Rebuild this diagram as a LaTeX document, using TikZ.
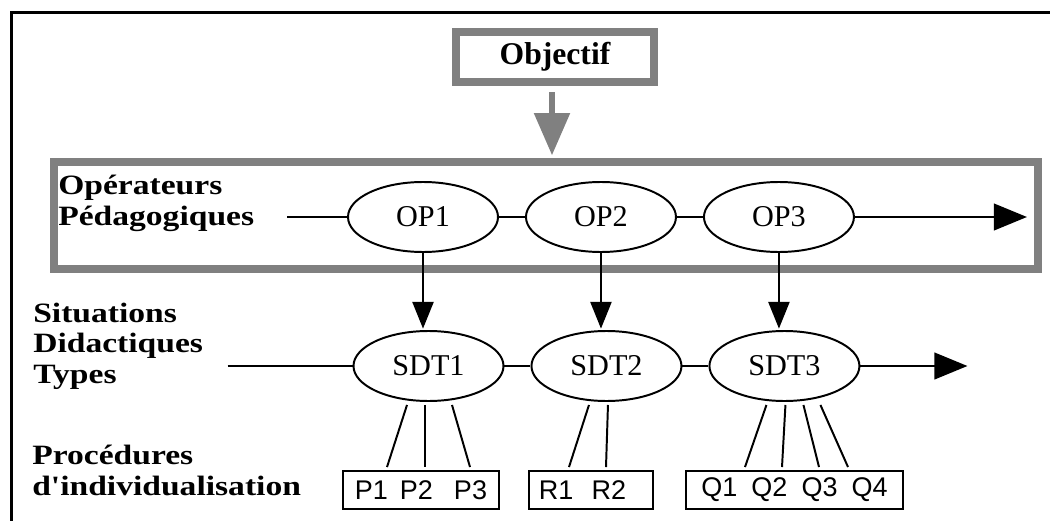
\documentclass[tikz,border=0pt]{standalone}
\usepackage{fontspec}
\setmainfont{Liberation Serif}
\newfontfamily\headfont[FakeStretch=1.2]{Liberation Serif}
\newfontfamily\boxfont{Liberation Sans}
\usepackage{tikz}
\usetikzlibrary{shapes,arrows.meta,positioning,calc}

\begin{document}
\begin{tikzpicture}[
        % Styles for the frames, the stages and the links
        frame/.style={line width=2.3pt},
        goal/.style={draw=gray, line width=5.7pt, minimum width=4.95cm, minimum height=1.25cm, inner sep=0pt, font=\fontsize{22.5}{25}\selectfont\bfseries},
        level/.style={draw=gray, line width=5.7pt, minimum width=24.6cm, minimum height=2.675cm},
        heading/.style={align=left, inner sep=0pt, font=\headfont\bfseries\fontsize{19.9}{21.5}\selectfont},
        stage/.style={draw, ellipse, line width=1.4pt, minimum width=3.75cm, minimum height=1.75cm, inner sep=0pt, font=\fontsize{21.5}{24}\selectfont},
        procbox/.style={draw, line width=1.4pt, minimum height=0.95cm, inner sep=0pt, font=\boxfont\fontsize{19.2}{22}\selectfont},
        link/.style={line width=1.4pt},
        flow/.style={link, -{Triangle[length=23.5pt,width=19pt]}},
        down/.style={link, -{Triangle[length=19pt,width=15pt]}, shorten >=1pt},
        goalarrow/.style={draw=gray, line width=3.6pt, -{Triangle[length=30pt,width=25pt]}, shorten <=4.3pt, shorten >=2pt}
      ]

      \useasboundingbox (0,0) rectangle (26.25,-13.025);

      % Outer frame, open on the right and at the bottom
      \draw[frame] (26.25,-0.3175) -| (0.2925,-13.025);

      % Objective and the level of the operators
      \node[goal] (objectif) at (13.875,-1.425) {Objectif};
      \node[level] (oplevel) at (13.65,-5.3875) {};
      \draw[goalarrow] ($(objectif.south)+(-0.075,0)$) -- ($(objectif.south |- oplevel.north)+(-0.075,0)$);

      % Row labels (base is the last line)
      \node[heading, anchor=base west] (oplabel) at (1.45,-5.625) {Opérateurs\\Pédagogiques};
      \node[heading, anchor=base west] (sdtlabel) at (0.825,-9.575) {Situations\\Didactiques\\Types};
      \node[heading, anchor=base west] (proclabel) at (0.8,-12.375) {Procédures\\d'individualisation};

      % Pedagogical operators
      \node[stage] (op1) at (10.575,-5.425) {OP1};
      \node[stage, right=0.65cm of op1] (op2) {OP2};
      \node[stage, right=0.65cm of op2] (op3) {OP3};
      \coordinate (opstart) at ($(op1.west)+(-1.5,0)$);
      \coordinate (opend) at ($(op3.east)+(4.3,0)$);
      \draw[link] (opstart) -- (op1) (op1) -- (op2) (op2) -- (op3);
      \draw[flow] (op3) -- (opend);

      % Typical didactic situations
      \node[stage] (sdt1) at (10.7125,-9.15) {SDT1};
      \node[stage, right=0.65cm of sdt1] (sdt2) {SDT2};
      \node[stage, right=0.65cm of sdt2] (sdt3) {SDT3};
      \coordinate (sdtstart) at ($(sdt1.west)+(-3.125,0)$);
      \coordinate (sdtend) at ($(sdt3.east)+(2.675,0)$);
      \draw[link] (sdtstart) -- (sdt1) (sdt1) -- (sdt2) (sdt2) -- (sdt3);
      \draw[flow] (sdt3) -- (sdtend);

      % Each operator gives one situation
      \foreach \i in {1,2,3} {
        \draw[down] (op\i.south) -- (op\i.south |- sdt\i.north);
      }

      % Individualisation procedures
      \node[procbox, minimum width=3.9cm] (pbox) at (10.525,-12.25) {P1\hspace{8.5pt}P2\hspace{15pt}P3};
      \node[procbox, minimum width=3.1cm] (rbox) at (14.775,-12.25) {R1\hspace{13pt}R2\hspace*{12pt}};
      \node[procbox, minimum width=5.425cm] (qbox) at (19.8625,-12.25) {Q1\hspace{10pt}Q2\hspace{10pt}Q3\hspace{10pt}Q4};

      % Legs from the situations down to their procedures
      \foreach \sdt/\grp/\a/\b in {sdt1/pbox/-0.5375/-0.85, sdt1/pbox/-0.0875/0.1, sdt1/pbox/0.5875/1.225,
                                    sdt2/rbox/-0.4375/-0.55, sdt2/rbox/0.0375/0.375,
                                    sdt3/qbox/-0.45/-1.2375, sdt3/qbox/0.025/-0.3125, sdt3/qbox/0.475/0.6125, sdt3/qbox/0.9/1.3375} {
        \draw[link] ($(\sdt.south)+(\a,-0.075)$) -- ($(\grp.north)+(\b,0.075)$);
      }

    \end{tikzpicture}
\end{document}
